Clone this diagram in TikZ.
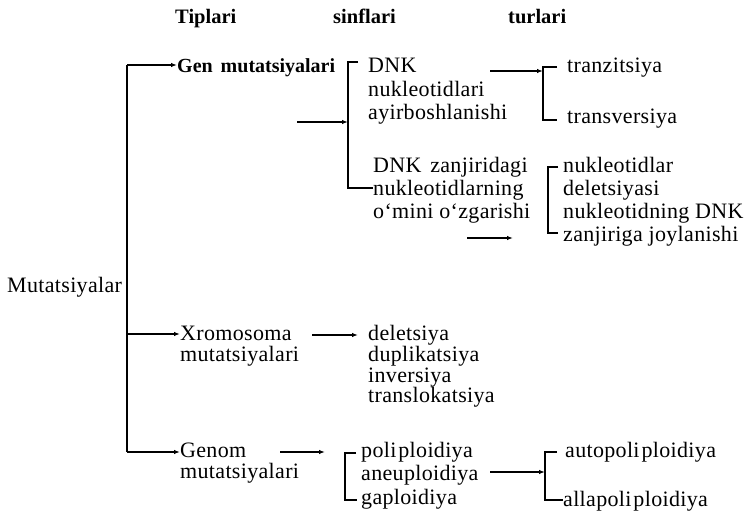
\documentclass[tikz,border=0pt]{standalone}
\usepackage{fontspec}
\setmainfont{Liberation Serif}
\usetikzlibrary{arrows.meta}
\begin{document}
\begin{tikzpicture}[x=1pt,y=-1pt,
  txt/.style={anchor=base west, inner sep=0pt, font=\addfontfeatures{LetterSpace=1.5}\fontsize{22}{24}\selectfont},
  hdr/.style={anchor=base west, inner sep=0pt, font=\fontsize{20.5}{22}\selectfont\bfseries},
  gentxt/.style={anchor=base west, inner sep=0pt, font=\fontsize{20}{23}\selectfont\bfseries},
  ln/.style={line width=1.4pt},
  arr/.style={ln, -{Latex[length=6pt,width=4.5pt]}},
  brk/.style={line width=1.2pt}]
\useasboundingbox (0,0) rectangle (752,519);
% headers
\node[hdr] (h1) at (175,24) {Tiplari};
\node[hdr] (h2) at (333,24) {sinflari};
\node[hdr] (h3) at (508,24) {turlari};
% root
\node[txt] (mut) at (7,292) {Mutatsiyalar};
% types
\node[gentxt] (gen) at (177,73) {Gen\hspace{0.4em}mutatsiyalari};
\node[txt] (xro1) at (180,340) {Xromosoma};
\node[txt] (xro2) at (180,361) {mutatsiyalari};
\node[txt] (genom1) at (180,457) {Genom};
\node[txt] (genom2) at (180,478) {mutatsiyalari};
% classes
\node[txt] (dnk1) at (368,72) {DNK};
\node[txt] (dnk2) at (368,96) {nukleotidlari};
\node[txt] (dnk3) at (368,119) {ayirboshlanishi};
\node[txt] (zan1) at (373,172) {DNK\hspace{0.4em}zanjiridagi};
\node[txt] (zan2) at (373,195) {nukleotidlarning};
\node[txt] (zan3) at (373,218) {o‘mini o‘zgarishi};
\node[txt] (del1) at (368,340) {deletsiya};
\node[txt] (del2) at (368,361) {duplikatsiya};
\node[txt] (del3) at (368,382) {inversiya};
\node[txt] (del4) at (368,402) {translokatsiya};
\node[txt] (pl1) at (361,457) {poli\hspace{2pt}ploidiya};
\node[txt] (pl2) at (361,480) {aneuploidiya};
\node[txt] (pl3) at (361,504) {gaploidiya};
% kinds
\node[txt] (tr1) at (567,73) {tranzitsiya};
\node[txt] (tr2) at (567,123) {transversiya};
\node[txt] (nk1) at (563,172) {nukleotidlar};
\node[txt] (nk2) at (563,195) {deletsiyasi};
\node[txt] (nk3) at (563,218) {nukleotidning DNK};
\node[txt] (nk4) at (563,241) {zanjiriga joylanishi};
\node[txt] (ap1) at (565,457) {autopoli\hspace{2pt}ploidiya};
\node[txt] (ap2) at (563,506) {allapoli\hspace{2pt}ploidiya};
% trunk
\coordinate (tTop) at (127,65);
\coordinate (tX) at (127,334);
\coordinate (tBot) at (127,452);
\draw[ln] (tTop) -- (tBot);
\draw[arr] (tTop) -- (tTop -| gen.west);
\draw[arr] (tX) -- (tX -| xro1.west);
\draw[arr] (tBot) -- (tBot -| genom1.west);
% Gen bracket
\coordinate (gbT) at (348,62);
\coordinate (gbB) at (348,188);
\coordinate (gbT1) at (358,62);
\draw[brk] (gbT1) -- (gbT) -- (gbB) -- (gbB -| zan2.west);
\coordinate (ga1) at (297,122);
\draw[arr] (ga1) -- (ga1 -| gbT);
% tranzitsiya bracket
\coordinate (tbT) at (543,67);
\coordinate (tbB) at (543,120);
\coordinate (tbT1) at (557,67);
\coordinate (tbB1) at (557,120);
\draw[brk] (tbT1) -- (tbT) -- (tbB) -- (tbB1);
\coordinate (ta1) at (490,71);
\draw[arr] (ta1) -- (ta1 -| tbT);
% nukleotidlar bracket
\coordinate (nbT) at (548,167);
\coordinate (nbB) at (548,233);
\coordinate (nbT1) at (558,167);
\coordinate (nbB1) at (558,233);
\draw[brk] (nbT1) -- (nbT) -- (nbB) -- (nbB1);
\coordinate (na1) at (467,238);
\coordinate (na2) at (513,238);
\draw[arr] (na1) -- (na2);
% Xromosoma arrow
\coordinate (xa1) at (312,335);
\coordinate (xa2) at (358,335);
\draw[arr] (xa1) -- (xa2);
% Genom bracket
\coordinate (pbT) at (345,453);
\coordinate (pbB) at (345,500);
\coordinate (pbT1) at (356,453);
\coordinate (pbB1) at (357,500);
\draw[brk] (pbT1) -- (pbT) -- (pbB) -- (pbB1);
\coordinate (pa1) at (280,452);
\coordinate (pa2) at (325,452);
\draw[arr] (pa1) -- (pa2);
% autopoli bracket
\coordinate (abT) at (545,452);
\coordinate (abB) at (545,500);
\coordinate (abT1) at (557,452);
\draw[brk] (abT1) -- (abT) -- (abB) -- (abB -| ap2.west);
\coordinate (aa1) at (490,472);
\draw[arr] (aa1) -- (aa1 -| abT);
\end{tikzpicture}
\end{document}
